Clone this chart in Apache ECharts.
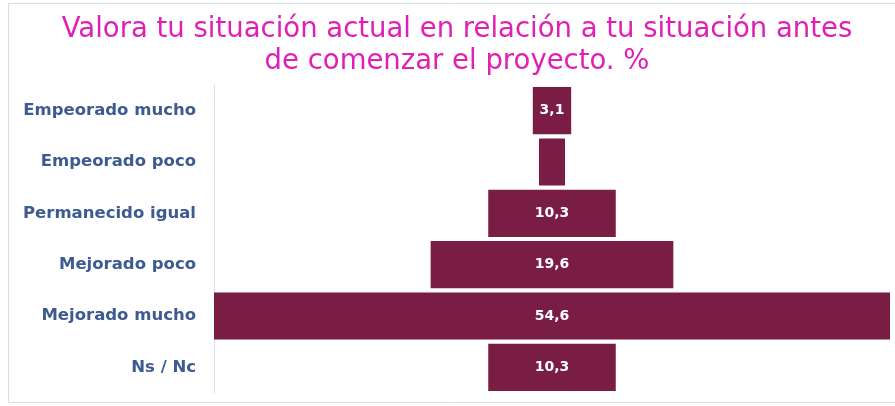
<!DOCTYPE html>
<html>
<head>
<meta charset="utf-8">
<script src="https://cdn.jsdelivr.net/npm/echarts@6/dist/echarts.min.js"></script>
<style>
  html, body { margin: 0; padding: 0; background: #fff; }
  #chart { width: 895px; height: 406px; }
</style>
</head>
<body>
<div id="chart"></div>
<script>
const titleLines = ['Valora tu situación actual en relación a tu situación antes', 'de comenzar el proyecto. %']
const categories = ['Empeorado mucho', 'Empeorado poco', 'Permanecido igual', 'Mejorado poco', 'Mejorado mucho', 'Ns / Nc']
const values = [3.1, 2.1, 10.3, 19.6, 54.6, 10.3]
const labels = ['3,1', '', '10,3', '19,6', '54,6', '10,3']

const maxValue = Math.max(...values)
// transparent offset so each bar sits centred on the widest one
const offsets = values.map(v => (maxValue - v) / 2)

const chart = echarts.init(document.getElementById('chart'))
chart.setOption({
  animation: false,
  graphic: [
    {
      type: 'rect',
      shape: { x: 8.5, y: 3.5, width: 900, height: 399 },
      style: { fill: 'none', stroke: '#d6dde8', lineWidth: 1 }
    },
    {
      type: 'text',
      x: 457,
      y: 14,
      style: {
        text: titleLines.join('\n'),
        align: 'center',
        verticalAlign: 'top',
        fill: '#e020b4',
        font: 'normal 27.5px "DejaVu Sans"',
        lineHeight: 32
      }
    }
  ],
  grid: { left: 214, right: 5, top: 85, bottom: 13 },
  xAxis: {
    type: 'value',
    min: 0,
    max: maxValue,
    show: false
  },
  yAxis: {
    type: 'category',
    inverse: true,
    data: categories,
    axisLine: { lineStyle: { color: '#d8dfea', width: 1 } },
    axisTick: { show: false },
    axisLabel: {
      color: '#3d5a91',
      fontFamily: 'DejaVu Sans',
      fontWeight: 'bold',
      fontSize: 16.5,
      margin: 18
    }
  },
  series: [
    {
      type: 'bar',
      stack: 'total',
      data: offsets,
      itemStyle: { color: 'transparent' },
      silent: true
    },
    {
      type: 'bar',
      stack: 'total',
      data: values,
      barCategoryGap: '8%',
      itemStyle: { color: '#7a1d44' },
      label: {
        show: true,
        position: 'inside',
        color: '#fff',
        fontFamily: 'DejaVu Sans',
        fontWeight: 'bold',
        fontSize: 14,
        formatter: p => labels[p.dataIndex]
      }
    }
  ]
})
</script>
</body>
</html>
